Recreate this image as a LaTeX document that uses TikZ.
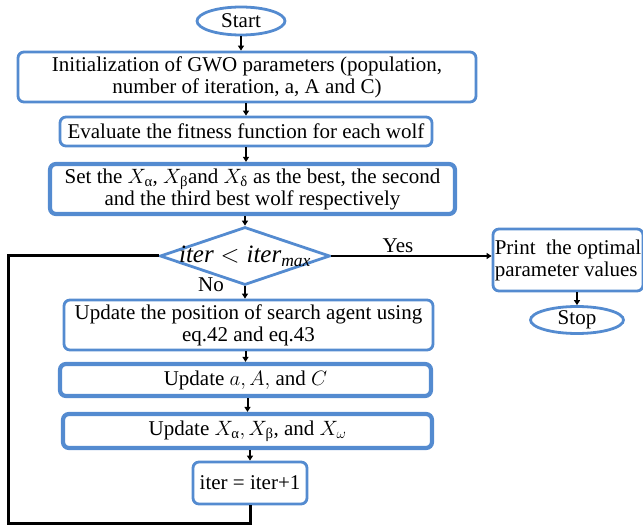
\documentclass[tikz,border=0pt]{standalone}
\usepackage{amsmath}
\usepackage{fontspec}
\setmainfont{Liberation Serif}
\usetikzlibrary{shapes.geometric,arrows.meta}
\definecolor{boxblue}{RGB}{84,139,208}
\tikzset{
  blk/.style={draw=boxblue,line width=2.8pt,rounded corners=6pt,fill=white,align=center,inner sep=1pt},
  thk/.style={blk,line width=4.2pt},
  term/.style={draw=boxblue,line width=2.8pt,ellipse,inner sep=0pt},
  arr/.style={line width=2pt,-{Triangle[length=5pt,width=6pt]}},
  back/.style={line width=3pt}
}
\newcommand{\gsub}[1]{\text{#1}}
\begin{document}
\begin{tikzpicture}[x=1pt,y=1pt,yscale=-1,font=\fontsize{21}{22}\selectfont]
\useasboundingbox (0,0) rectangle (643,529);

%Terminal: Start
\node [term,minimum width=88,minimum height=28] (start) at (241,21) {Start};
%Process boxes
\node [blk,minimum width=458,minimum height=50] (init) at (247,77)
  {Initialization of GWO parameters (population,\\ number of iteration, a, A and C)};
\node [blk,minimum width=372,minimum height=29] (eval) at (246,131.5)
  {Evaluate the fitness function for each wolf};
\node [thk,minimum width=405,minimum height=50] (best) at (252.5,189)
  {Set the $X_{\gsub{α}}$, $X_{\gsub{β}}$and $X_{\gsub{δ}}$ as the best, the second\\ and the third best wolf respectively};
%Decision
\node [diamond,draw=boxblue,line width=2.8pt,aspect=2.93,minimum width=170,minimum height=58,inner sep=0pt] (test) at (245,256) {};
\node [font=\fontsize{25}{26}\selectfont] (testlbl) at (245,256) {$\mathit{iter} < \mathit{iter}_{\mathit{max}}$};
%Output side
\node [blk,minimum width=150,minimum height=62,align=left,inner sep=1pt] (print) at (568,260)
  {Print\ \ the optimal\\parameter values};
\node [term,minimum width=93,minimum height=27] (stop) at (577,320) {Stop};
%Loop body
\node [blk,minimum width=369,minimum height=50] (upos) at (248.5,325)
  {Update the position of search agent using\\ eq.42 and eq.43};
\node [thk,minimum width=371,minimum height=32] (upar) at (245.5,380)
  {Update $a, A,$ and $C$};
\node [thk,minimum width=369,minimum height=34] (ux) at (247.5,431)
  {Update $X_{\gsub{α}}, X_{\gsub{β}}$, and $X_{\omega}$};
\node [blk,minimum width=114,minimum height=42] (inc) at (250,483)
  {iter = iter+1};

% Text Node
\node (yes) at (398,246) {Yes};
% Text Node
\node (no) at (211,285) {No};

%Connectors
\draw [arr] (start) -- (start |- init.north);
\draw [arr] (init.south -| eval) -- (eval.north);
\draw [arr] (eval.south) -- (eval.south |- best.north);
\draw [arr] (best.south -| test) -- (test.north);
\draw [arr] (test.east) -- (print.west |- test.east);
\draw [arr] (print.south -| stop) -- (stop.north);
\draw [arr] (test.south) -- (test.south |- upos.north);
\draw [arr] (upos.south -| upar) -- (upar.north);
\draw [arr] (upar.south -| ux) -- (ux.north);
\draw [arr] (ux.south -| inc) -- (inc.north);
\coordinate (lp) at (8,523);
\draw [back] (inc.south) |- (lp) |- (test.west);
\end{tikzpicture}
\end{document}
